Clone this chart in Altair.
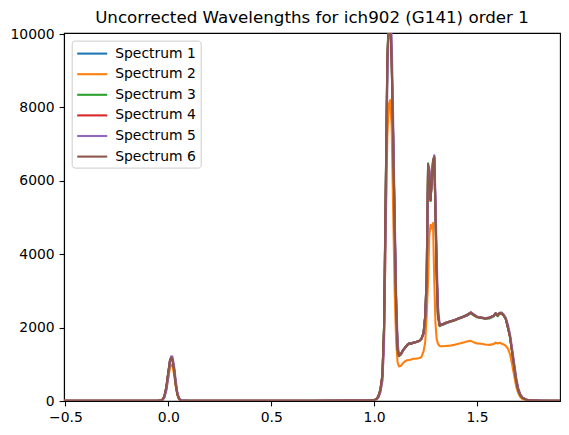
import altair as alt
import pandas as pd

TITLE = "Uncorrected Wavelengths for ich902 (G141) order 1"
NAMES = ["Spectrum 1", "Spectrum 2", "Spectrum 3", "Spectrum 4", "Spectrum 5", "Spectrum 6"]
COLORS = ["#1f77b4", "#ff7f0e", "#2ca02c", "#d62728", "#9467bd", "#8c564b"]
XTICKS = [-0.5, 0.0, 0.5, 1.0, 1.5]
YTICKS = [0, 2000, 4000, 6000, 8000, 10000]

WAVE = [-0.507, -0.3, -0.1, -0.05, -0.03, -0.02, -0.01, 0.0, 0.008, 0.014,
        0.02, 0.028, 0.036, 0.044, 0.052, 0.062, 0.1, 0.3, 0.5, 0.7,
        0.9, 0.98, 1.0, 1.01, 1.02, 1.03, 1.04, 1.048, 1.056, 1.064,
        1.072, 1.078, 1.085, 1.092, 1.1, 1.107, 1.114, 1.121, 1.13, 1.14,
        1.15, 1.16, 1.17, 1.18, 1.19, 1.2, 1.21, 1.22, 1.23, 1.24,
        1.248, 1.255, 1.262, 1.268, 1.274, 1.28, 1.286, 1.292, 1.298, 1.304,
        1.31, 1.318, 1.33, 1.35, 1.37, 1.39, 1.41, 1.43, 1.45, 1.47,
        1.48, 1.5, 1.52, 1.54, 1.56, 1.58, 1.59, 1.6, 1.61, 1.62,
        1.63, 1.64, 1.65, 1.66, 1.67, 1.68, 1.69, 1.7, 1.71, 1.72,
        1.74, 1.77, 1.8, 1.85, 1.903]

S1 = [5, 5, 5, 8, 28, 110, 360, 780, 1100, 1180,
      1140, 870, 470, 190, 65, 16, 5, 5, 5, 8,
      10, 15, 24, 48, 115, 290, 680, 1950, 5500, 9200,
      10500, 10450, 9350, 7300, 4700, 2600, 1400, 1240, 1290, 1390,
      1460, 1530, 1575, 1565, 1595, 1605, 1625, 1645, 1705, 1860,
      2320, 3350, 6400, 6250, 5450, 6050, 6500, 6600, 5150, 3450,
      2350, 2070, 2090, 2140, 2175, 2205, 2255, 2295, 2345, 2415,
      2365, 2295, 2275, 2255, 2275, 2325, 2395, 2335, 2405, 2395,
      2335, 2235, 2010, 1760, 1360, 960, 570, 305, 165, 92,
      31, 15, 10, 8, 5]

S2 = [5, 5, 5, 7, 25, 95, 300, 650, 910, 990,
      950, 720, 390, 155, 52, 13, 5, 5, 5, 7,
      9, 13, 20, 42, 100, 250, 580, 1700, 4600, 7200,
      8100, 8200, 7500, 5300, 2900, 1600, 1050, 940, 960, 1030,
      1080, 1110, 1120, 1130, 1150, 1150, 1160, 1170, 1200, 1350,
      1600, 2300, 3300, 4500, 4800, 4700, 4850, 3300, 2100, 1680,
      1560, 1500, 1490, 1500, 1510, 1530, 1560, 1590, 1620, 1640,
      1610, 1570, 1560, 1540, 1530, 1550, 1590, 1570, 1590, 1560,
      1540, 1500, 1430, 1280, 1000, 700, 400, 220, 110, 55,
      20, 10, 8, 7, 5]

S3 = [5, 5, 5, 7, 26, 105, 350, 770, 1090, 1170,
      1120, 840, 440, 175, 58, 14, 5, 5, 5, 8,
      10, 15, 26, 52, 125, 310, 720, 2050, 5700, 9400,
      10550, 10400, 9200, 7200, 4600, 2550, 1380, 1220, 1270, 1370,
      1440, 1510, 1560, 1555, 1585, 1595, 1615, 1635, 1695, 1850,
      2320, 3350, 6480, 6200, 5450, 5950, 6550, 6680, 5100, 3350,
      2300, 2040, 2070, 2120, 2160, 2190, 2240, 2280, 2320, 2390,
      2350, 2280, 2260, 2240, 2250, 2300, 2370, 2310, 2380, 2370,
      2320, 2220, 1990, 1740, 1340, 940, 550, 295, 155, 88,
      29, 14, 10, 8, 5]

S4 = [5, 5, 5, 8, 29, 115, 370, 790, 1110, 1185,
      1135, 860, 460, 185, 62, 15, 5, 5, 5, 8,
      10, 15, 25, 50, 120, 295, 690, 1980, 5550, 9250,
      10550, 10480, 9320, 7280, 4680, 2580, 1400, 1235, 1285, 1385,
      1455, 1525, 1572, 1562, 1592, 1602, 1622, 1642, 1702, 1855,
      2310, 3320, 6420, 6280, 5480, 6020, 6530, 6630, 5080, 3400,
      2320, 2060, 2085, 2135, 2172, 2202, 2252, 2292, 2342, 2412,
      2362, 2292, 2272, 2252, 2272, 2322, 2392, 2332, 2402, 2392,
      2332, 2232, 2005, 1755, 1355, 955, 565, 302, 162, 91,
      30, 15, 10, 8, 5]

S5 = [5, 5, 5, 6, 20, 80, 280, 650, 1050, 1220,
      1210, 950, 560, 230, 80, 20, 5, 5, 6, 8,
      10, 14, 20, 40, 90, 230, 550, 1500, 4600, 8600,
      10700, 10800, 9900, 7800, 5100, 2900, 1600, 1260, 1270, 1370,
      1440, 1510, 1560, 1570, 1580, 1600, 1610, 1640, 1690, 1820,
      2200, 3000, 5900, 6350, 5600, 5900, 6500, 6700, 5600, 3900,
      2600, 2100, 2070, 2120, 2160, 2210, 2240, 2280, 2330, 2400,
      2380, 2300, 2260, 2250, 2260, 2310, 2380, 2350, 2390, 2410,
      2350, 2260, 2080, 1830, 1450, 1050, 650, 360, 190, 100,
      35, 15, 10, 7, 5]

S6 = [5, 5, 5, 8, 30, 120, 380, 800, 1120, 1190,
      1130, 850, 450, 180, 60, 15, 5, 5, 5, 8,
      10, 15, 25, 50, 120, 300, 700, 2000, 5600, 9300,
      10600, 10500, 9300, 7300, 4700, 2600, 1400, 1230, 1280, 1380,
      1450, 1520, 1570, 1560, 1590, 1600, 1620, 1640, 1700, 1850,
      2300, 3300, 6450, 6100, 5500, 6000, 6550, 6650, 5200, 3500,
      2400, 2080, 2080, 2130, 2170, 2200, 2250, 2290, 2340, 2410,
      2360, 2290, 2270, 2250, 2270, 2320, 2390, 2330, 2400, 2390,
      2330, 2230, 2000, 1750, 1350, 950, 560, 300, 160, 90,
      30, 15, 10, 8, 5]

SERIES = [S1, S2, S3, S4, S5, S6]

rows = []
for name, vals in zip(NAMES, SERIES):
    assert len(vals) == len(WAVE), name
    for w, v in zip(WAVE, vals):
        rows.append({"wavelength": w, "flux": v, "series": name})
df = pd.DataFrame(rows)

FONT = "DejaVu Sans"

chart = alt.Chart(df).mark_line(strokeWidth=2.08, clip=True, strokeJoin="round").encode(
    x=alt.X("wavelength:Q",
            scale=alt.Scale(domain=[-0.507, 1.903], nice=False, zero=False),
            axis=alt.Axis(values=XTICKS, format=".1f", title=None, grid=False,
                          labelFlush=False, labelOverlap=False)),
    y=alt.Y("flux:Q",
            scale=alt.Scale(domain=[0, 10030], nice=False, zero=False),
            axis=alt.Axis(values=YTICKS, format="d", title=None, grid=False,
                          labelOverlap=False)),
    color=alt.Color("series:N",
                    scale=alt.Scale(domain=NAMES, range=COLORS),
                    legend=alt.Legend(
                        title=None, orient="none", legendX=7.7, legendY=7.6,
                        symbolType="M-2,0H2", symbolSize=225, symbolStrokeWidth=2.08,
                        symbolOffset=7.5, labelOffset=14,
                        labelFont=FONT, labelFontSize=13.9, labelColor="black",
                        padding=4, rowPadding=4.6,
                        fillColor="white", strokeColor="#cccccc", cornerRadius=3)),
    order=alt.Order("wavelength:Q"),
).properties(
    width=496, height=368,
    background="white",
    title=alt.TitleParams(TITLE, font=FONT, fontSize=16.7, fontWeight="normal",
                          color="black", anchor="middle", frame="group",
                          offset=3, dy=3),
    autosize=alt.AutoSizeParams(type="none"),
    padding={"left": 56, "top": 25, "right": 1, "bottom": 24},
).configure_axis(
    domainColor="black", domainWidth=1.1, tickColor="black", tickWidth=1.1,
    tickSize=4.9, labelPadding=4.9, labelFont=FONT, labelFontSize=13.9,
    labelColor="black",
).configure_view(
    stroke="black", strokeWidth=1.1,
)

chart.save("out.html", embed_options={"renderer": "svg", "actions": False})
